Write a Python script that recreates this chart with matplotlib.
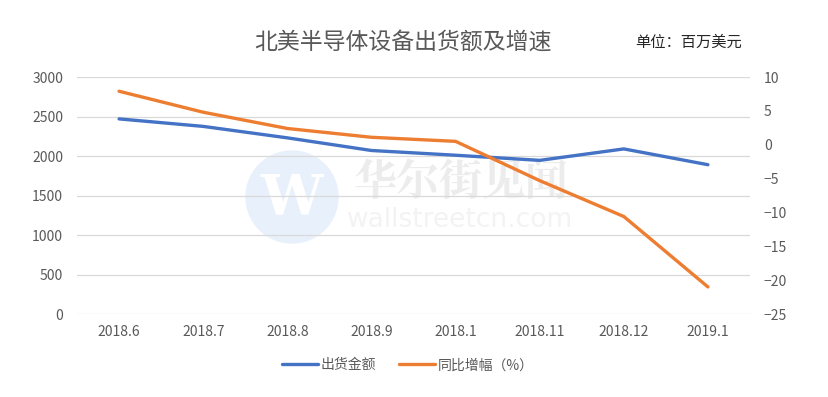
import matplotlib.pyplot as plt
from matplotlib.patches import Circle

plt.rcParams['font.family'] = ['Noto Sans CJK SC', 'DejaVu Sans']

# 数据
months = ['2018.6', '2018.7', '2018.8', '2018.9', '2018.1', '2018.11', '2018.12', '2019.1']
shipments = [2470, 2375, 2230, 2070, 2010, 1945, 2090, 1890]
yoy_growth = [7.9, 4.8, 2.4, 1.1, 0.5, -5.3, -10.6, -21.0]
left_ticks = [0, 500, 1000, 1500, 2000, 2500, 3000]
right_ticks = [-25, -20, -15, -10, -5, 0, 5, 10]

blue = '#4472c4'
orange = '#ed7d31'
gray = '#595959'

fig = plt.figure(figsize=(8.29, 3.97), dpi=100)
ax = fig.add_axes([0.0929, 0.209, 0.8118, 0.597])
ax2 = ax.twinx()

x = list(range(len(months)))

# 水印
wm = fig.add_axes([0, 0, 1, 1], zorder=-1)
wm.set_xlim(0, 829)
wm.set_ylim(397, 0)
wm.axis('off')
wm.add_patch(Circle((292, 197), 46, color='#e8f1fb'))
wm.text(292, 199, 'W', fontsize=40, color='white', ha='center', va='center',
        family='DejaVu Serif', fontweight='bold')
wm.text(461, 183, '华尔街见闻', fontsize=31, color='#ececec', ha='center', va='center',
        fontweight='bold', family='Noto Serif CJK SC')
wm.text(460, 220, 'wallstreetcn.com', fontsize=19, color='#f3f3f3', ha='center', va='center',
        family='DejaVu Sans')
ax.patch.set_alpha(0)
ax2.patch.set_alpha(0)

l1, = ax.plot(x, shipments, color=blue, lw=2.4, solid_capstyle='round', label='出货金额', zorder=3)
l2, = ax2.plot(x, yoy_growth, color=orange, lw=2.4, solid_capstyle='round', label='同比增幅（%）', zorder=3)

ax.set_xlim(-0.5, len(months) - 0.5)
ax.set_ylim(0, 3000)
ax.set_yticks(left_ticks)
ax2.set_ylim(-25, 10)
ax2.set_yticks(right_ticks)
ax.set_xticks(x)
ax.set_xticklabels(months)

ax.grid(axis='y', color='#d9d9d9', lw=0.9)
ax.set_axisbelow(True)
for a in (ax, ax2):
    for s in a.spines.values():
        s.set_visible(False)
    a.tick_params(length=0, colors=gray, labelsize=10)
ax.tick_params(axis='x', pad=8)
ax.tick_params(axis='y', pad=10)
ax2.tick_params(axis='y', pad=10)

fig.text(0.486, 0.894, '北美半导体设备出货额及增速', fontsize=16.5, color=gray, ha='center', va='center')
fig.text(0.766, 0.894, '单位：百万美元', fontsize=11, color='#262626', ha='left', va='center')

fig.legend(handles=[l1, l2], loc='center', bbox_to_anchor=(0.492, 0.08), ncol=2, frameon=False,
           fontsize=10, labelcolor=gray, handlelength=2.6, columnspacing=1.6, handletextpad=0.2)

fig.savefig('out.png', dpi=100)
